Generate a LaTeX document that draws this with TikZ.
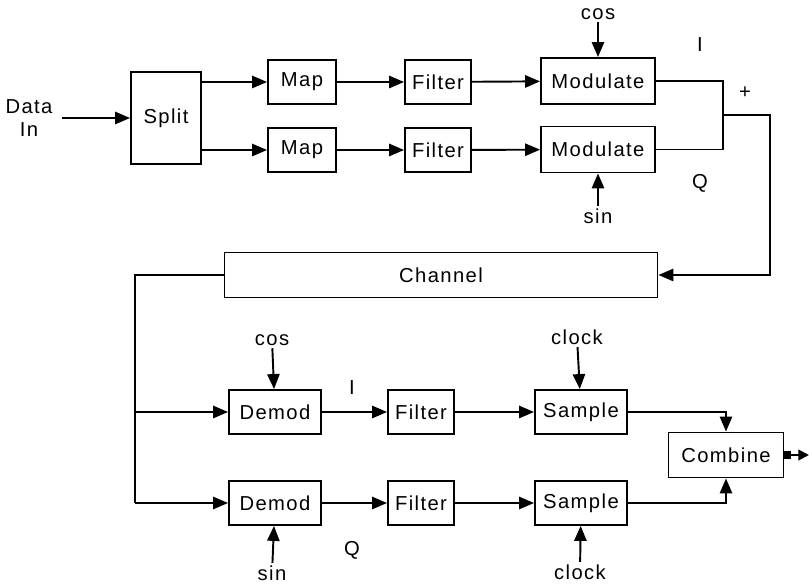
\documentclass[tikz,border=0pt]{standalone}
\usepackage{fontspec}
\setmainfont{Liberation Sans}[LetterSpace=7]
\usetikzlibrary{arrows.meta}

\begin{document}
\begin{tikzpicture}[
  font=\fontsize{11.5pt}{13pt}\selectfont,
  line width=1.1pt,
  box/.style={draw, minimum width=1.36cm, minimum height=0.88cm, inner sep=0pt},
  widebox/.style={box, minimum width=1.84cm},
  arrow/.style={-{Triangle[length=8.5pt,width=7pt]}},
  lbl/.style={inner sep=1pt}
]
\useasboundingbox (0,0) rectangle (16.18,-11.7);

% transmitter
\node[lbl, align=center] (datain) at (0.58,-2.36) {Data\\In};
\node[box, minimum width=1.40cm, minimum height=1.84cm] (split) at (3.32,-2.36) {Split};
\node[box] (map1) at (6.04,-1.64) {Map};
\node[box] (map2) at (6.04,-3.00) {Map};
\node[box, minimum width=1.32cm] (filt1) at (8.76,-1.64) {Filter};
\node[box, minimum width=1.32cm] (filt2) at (8.76,-3.00) {Filter};
\node[box, minimum width=2.28cm, minimum height=0.92cm] (mod1) at (11.96,-1.62) {Modulate};
\node[box, minimum width=2.28cm, minimum height=0.92cm] (mod2) at (11.96,-2.99) {Modulate};
\node[lbl] (cos1) at (11.96,-0.28) {cos};
\node[lbl] (sin1) at (11.96,-4.32) {sin};
\node[lbl] (ilbl1) at (14.0,-0.9) {I};
\node[lbl] (qlbl1) at (14.0,-3.66) {Q};
\node[lbl] (plus) at (14.9,-1.86) {+};
\coordinate (sum) at (14.46,-2.30);
\coordinate (turn) at (15.4,-2.30);

% channel
\node[box, minimum width=8.66cm, minimum height=0.90cm] (chan) at (8.82,-5.5) {Channel};
\coordinate (bus) at (2.70,-5.5);

% receiver
\node[widebox] (dem1) at (5.5,-8.24) {Demod};
\node[widebox] (dem2) at (5.5,-10.06) {Demod};
\node[box, minimum width=1.32cm] (filt3) at (8.42,-8.24) {Filter};
\node[box, minimum width=1.32cm] (filt4) at (8.42,-10.06) {Filter};
\node[widebox] (samp1) at (11.62,-8.24) {Sample};
\node[widebox] (samp2) at (11.62,-10.06) {Sample};
\node[box, minimum width=2.30cm, minimum height=0.90cm] (comb) at (14.52,-9.1) {Combine};
\node[lbl] (cos2) at (5.44,-6.8) {cos};
\node[lbl] (sin2) at (5.44,-11.46) {sin};
\node[lbl] (clock1) at (11.54,-6.74) {clock};
\node[lbl] (clock2) at (11.6,-11.44) {clock};
\node[lbl] (ilbl2) at (7.04,-7.76) {I};
\node[lbl] (qlbl2) at (7.04,-11.0) {Q};
\coordinate (out) at (16.18,-9.1);

\draw[arrow] (1.24,-2.36) -- (split);
\draw[arrow] (split.east |- map1) -- (map1);
\draw[arrow] (split.east |- map2) -- (map2);
\draw[arrow] (map1) -- (filt1);
\draw[arrow] (map2) -- (filt2);
\draw[arrow] (filt1) -- (mod1);
\draw[arrow] (filt2) -- (mod2);
\draw[arrow] (cos1) -- (mod1);
\draw[arrow] (sin1) -- (mod2);
\draw (mod1.east) -| (sum) |- (mod2.east);
\draw[arrow] (sum) -- (turn) |- (chan.east);

\draw (chan.west) -- (bus) -- (bus |- dem2);
\draw[arrow] (bus |- dem1) -- (dem1);
\draw[arrow] (bus |- dem2) -- (dem2);
\draw[arrow] (cos2) -- (dem1);
\draw[arrow] (sin2) -- (dem2);
\draw[arrow] (dem1) -- (filt3);
\draw[arrow] (dem2) -- (filt4);
\draw[arrow] (filt3) -- (samp1);
\draw[arrow] (filt4) -- (samp2);
\draw[arrow] (clock1) -- (samp1);
\draw[arrow] (clock2) -- (samp2);
\draw[arrow] (samp1) -| (comb.north);
\draw[arrow] (samp2) -| (comb.south);
\draw[{Square[length=4pt,width=5pt]}-{Triangle[length=6pt,width=6pt]}] (comb.east) -- (out);
\end{tikzpicture}
\end{document}
